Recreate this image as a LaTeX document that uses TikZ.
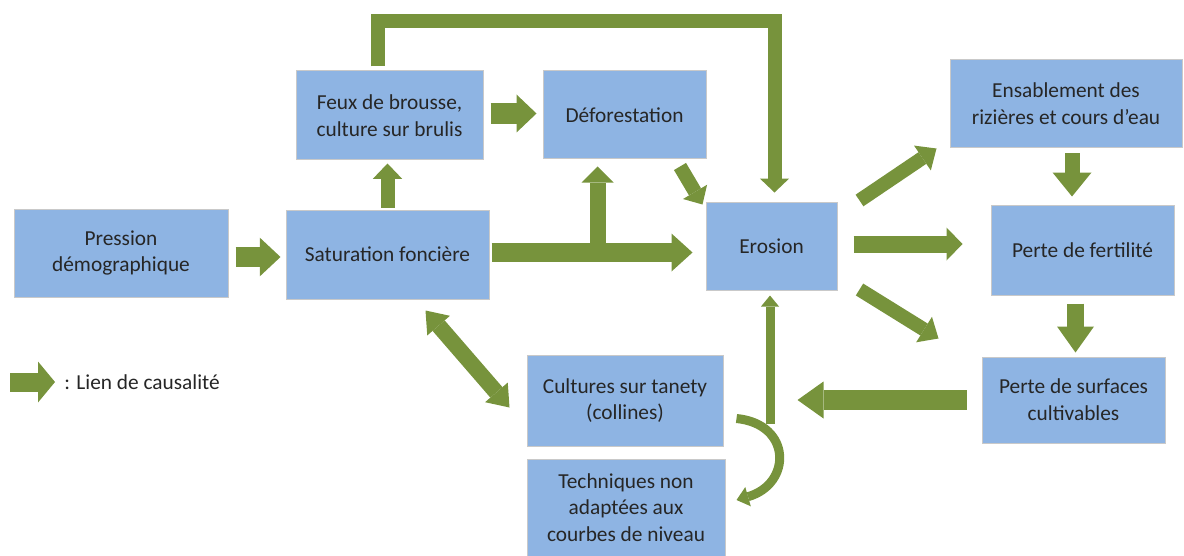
\documentclass[tikz,border=0pt]{standalone}
\usepackage{fontspec}
\setmainfont{Carlito}
\usetikzlibrary{arrows.meta,calc}
\definecolor{boxblue}{HTML}{8EB4E3}
\definecolor{boxline}{HTML}{C9C9C9}
\definecolor{arrowgreen}{HTML}{77933C}
\definecolor{textgrey}{HTML}{262626}
\tikzset{
  box/.style={rectangle, draw=boxline, fill=boxblue, line width=0.75pt, inner sep=0pt,
    align=center, text=textgrey, font=\fontsize{16}{20}\selectfont},
  causal/.style={draw=arrowgreen, line width=#1},
  bighead/.style 2 args={-{Triangle[width=#1, length=#2, line width=0pt]}},
  bothheads/.style 2 args={{Triangle[width=#1, length=#2, line width=0pt]}-{Triangle[width=#1, length=#2, line width=0pt]}},
}

\begin{document}
\begin{tikzpicture}[x=0.75pt, y=-0.75pt]
    \useasboundingbox (0,0) rectangle (1184,556);
    \node [box, minimum width=160.5pt, minimum height=66pt] (pression) at (121,253) {Pression\\démographique};
    \node [box, minimum width=152.25pt, minimum height=66.75pt] (saturation) at (387.5,254.5) {Saturation foncière};
    \node [box, minimum width=140.25pt, minimum height=66.75pt] (feux) at (389.5,115.5) {Feux de brousse,\\culture sur brulis};
    \node [box, minimum width=122.25pt, minimum height=66pt] (defor) at (624.5,115) {Déforestation};
    \node [box, minimum width=98.25pt, minimum height=66pt] (erosion) at (771.5,246) {Erosion};
    \node [box, minimum width=174pt, minimum height=66pt] (ensable) at (1066,104) {Ensablement des\\rizières et cours d'eau};
    \node [box, minimum width=137.25pt, minimum height=67.5pt] (fertil) at (1082.5,250) {Perte de fertilité};
    \node [box, minimum width=137.25pt, minimum height=64.5pt] (surfaces) at (1073.5,400) {Perte de surfaces\\cultivables};
    \node [box, minimum width=147pt, minimum height=68.25pt] (cultures) at (625,400.5) {Cultures sur tanety\\(collines)};
    \node [box, minimum width=148.5pt, minimum height=72.75pt] (techniques) at (626,507.5) {Techniques non\\adaptées aux\\courbes de niveau};
    \coordinate (legstart) at (10,382);
    \node [anchor=west, inner sep=0pt, text=textgrey, font=\fontsize{16}{20}\selectfont] (legend) at (64,382) {: Lien de causalité};

    \draw [causal=15.5pt, bighead={29pt}{15.5pt}, shorten <=5.25pt, shorten >=3.75pt] ([yshift=-3pt]pression.east) -- ([yshift=-3pt]pression.east -| saturation.west);
    \draw [causal=10.5pt, bighead={22pt}{11.5pt}, shorten <=1.5pt, shorten >=2.25pt] (saturation.north) -- (saturation.north |- feux.south);
    \draw [causal=16pt, bighead={28.5pt}{15pt}, shorten <=5.25pt, shorten >=4.5pt] ([yshift=1.5pt]feux.east) -- ([yshift=1.5pt]feux.east -| defor.west);
    \draw [causal=14.25pt, bighead={28.5pt}{15.75pt}, shorten <=1.5pt, shorten >=9.75pt] ([yshift=1.5pt]saturation.east) -- ([yshift=1.5pt]saturation.east -| erosion.west);
    \coordinate (fork) at ($(saturation.east)!0.5!(saturation.east -| erosion.west)$);
    \draw [causal=12pt, bighead={24pt}{12pt}, shorten >=5.25pt] (fork) -- (fork |- defor.south);
    \draw [causal=10.5pt, bighead={21pt}{11pt}] ($(defor.south east)+(-26.5,7)$) -- ($(erosion.north west)+(-3,3)$);
    \draw [causal=10.5pt, bighead={22pt}{10.5pt}, shorten <=3pt, shorten >=6.75pt] ([xshift=-8.6pt]feux.north) -- ++(0,-49) -| ([xshift=2.25pt]erosion.north);
    \draw [causal=10.5pt, bighead={22.5pt}{12.75pt}] ($(erosion.north east)+(22,-1)$) -- ($(ensable.south west)+(-13,0)$);
    \draw [causal=12.75pt, bighead={24.75pt}{12pt}, shorten <=12pt, shorten >=21pt] ([yshift=1.5pt]erosion.east) -- ([yshift=1.5pt]erosion.east -| fertil.west);
    \draw [causal=10.5pt, bighead={22.5pt}{12.75pt}] ($(erosion.south east)+(22,-1)$) -- ($(surfaces.north west)+(-43,-18)$);
    \draw [causal=11.25pt, bighead={29.25pt}{18pt}, shorten <=3.75pt, shorten >=6pt] ([xshift=4.5pt]ensable.south) -- ([xshift=4.5pt]ensable.south |- fertil.north);
    \draw [causal=12.75pt, bighead={27.75pt}{19.5pt}, shorten <=6pt, shorten >=3pt] ([xshift=-5.25pt]fertil.south) -- ([xshift=-5.25pt]fertil.south |- surfaces.north);
    \draw [causal=15pt, bighead={27.75pt}{19.5pt}, shorten <=11.25pt, shorten >=55.5pt] (surfaces.west) -- (surfaces.west -| cultures.east);
    \draw [causal=12pt, bothheads={22.5pt}{15pt}] ($(saturation.south east)+(-64,11)$) -- ($(cultures.north west)+(-17,53)$);
    \coordinate (bend) at (770,424);
    \draw [causal=6.75pt, bighead={13.5pt}{8.25pt}, shorten >=3.75pt] (bend) -- (bend |- erosion.south);
    \draw [causal=6.75pt, bighead={15pt}{9pt}] ($(cultures.east)+(13,18)$) .. controls (792,424) and (792,484) .. ($(techniques.east)+(11,-7.5)$);
    \draw [causal=14.25pt, bighead={30.75pt}{12.75pt}, shorten >=6.75pt] (legstart) -- (legend.west);
\end{tikzpicture}
\end{document}
